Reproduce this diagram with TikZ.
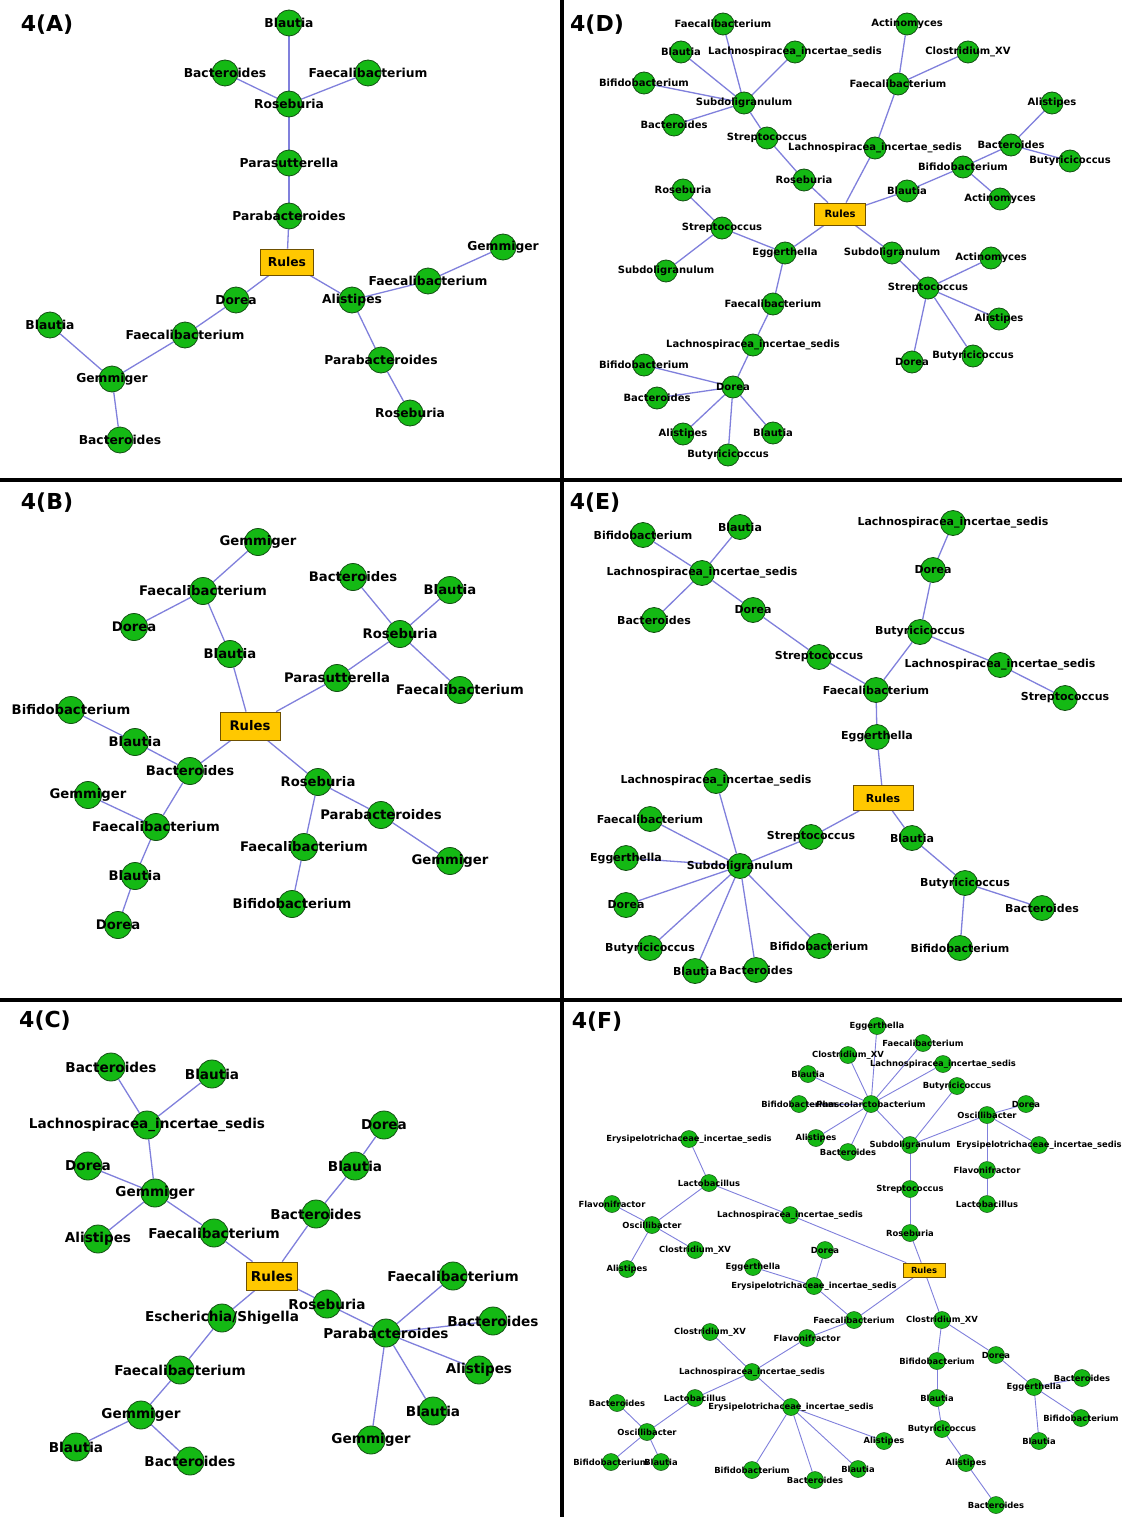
\documentclass[tikz,border=0pt]{standalone}
\usepackage{fontspec}
\setmainfont{DejaVu Sans}
\usetikzlibrary{backgrounds}
\pgfdeclarelayer{bg}\pgfdeclarelayer{fg}\pgfsetlayers{bg,main,fg}
\definecolor{nodegreen}{RGB}{20,185,20}
\definecolor{nodeborder}{RGB}{20,80,20}
\definecolor{edgeblue}{RGB}{128,128,220}
\definecolor{rulesfill}{RGB}{255,200,0}
\definecolor{rulesborder}{RGB}{110,80,0}
\newcommand\Lis{Lachnospiracea\_incertae\_sedis}
\newcommand\Ery{Erysipelotrichaceae\_incertae\_sedis}
\newcommand\Clo{Clostridium\_XV}
\newcommand\gn[5]{\node[gc#1] (#2) at (#3,#4) {};\begin{pgfonlayer}{fg}\node[gt#1] (t#2) at (#3,#4) {#5};\end{pgfonlayer}}
\tikzset{
  gcirc/.style={circle,fill=nodegreen,draw=nodeborder,line width=0.8pt,inner sep=0pt},
  gtext/.style={inner sep=0pt,text=black},
  gcA/.style={gcirc,minimum size=26pt}, gtA/.style={gtext,font=\bfseries\fontsize{12.3}{14}\selectfont},
  gcB/.style={gcirc,minimum size=27pt}, gtB/.style={gtext,font=\bfseries\fontsize{13.2}{15}\selectfont},
  gcC/.style={gcirc,minimum size=28pt}, gtC/.style={gtext,font=\bfseries\fontsize{13.6}{15}\selectfont},
  gcD/.style={gcirc,minimum size=22pt}, gtD/.style={gtext,font=\bfseries\fontsize{10}{12}\selectfont},
  gcE/.style={gcirc,minimum size=25pt}, gtE/.style={gtext,font=\bfseries\fontsize{11}{13}\selectfont},
  gcF/.style={gcirc,minimum size=17pt,line width=0.5pt}, gtF/.style={gtext,font=\bfseries\fontsize{8.4}{10}\selectfont},
  rulesbox/.style={rectangle,fill=rulesfill,draw=rulesborder,line width=0.8pt,inner sep=0pt},
  eg/.style={draw=edgeblue,line width=1.3pt},
  egF/.style={draw=edgeblue,line width=0.9pt},
  plabel/.style={font=\bfseries\fontsize{22}{24}\selectfont,inner sep=0pt},
  divider/.style={line width=4pt,black}
}
\begin{document}
\begin{tikzpicture}[x=1pt,y=-1pt]
\useasboundingbox (0,0) rectangle (1122,1517);
% ---------------- panel labels
\node[plabel] (LA) at (47,25) {4(A)};
\node[plabel] (LB) at (47,503) {4(B)};
\node[plabel] (LC) at (45,1021) {4(C)};
\node[plabel] (LD) at (597,25) {4(D)};
\node[plabel] (LE) at (595,503) {4(E)};
\node[plabel] (LF) at (597,1022) {4(F)};
% ---------------- A
\gn{A}{A1}{289}{23}{Blautia}
\gn{A}{A2}{225}{73}{Bacteroides}
\gn{A}{A3}{368}{73}{Faecalibacterium}
\gn{A}{A4}{289}{104}{Roseburia}
\gn{A}{A5}{289}{163}{Parasutterella}
\gn{A}{A6}{289}{216}{Parabacteroides}
\node[rulesbox,minimum width=53pt,minimum height=26pt,font=\bfseries\fontsize{12.3}{14}\selectfont] (AR) at (287,262) {Rules};
\gn{A}{A7}{236}{300}{Dorea}
\gn{A}{A8}{352}{300}{Alistipes}
\gn{A}{A9}{428}{281}{Faecalibacterium}
\gn{A}{A10}{503}{247}{Gemmiger}
\gn{A}{A11}{381}{360}{Parabacteroides}
\gn{A}{A12}{410}{413}{Roseburia}
\gn{A}{A13}{185}{335}{Faecalibacterium}
\gn{A}{A14}{50}{325}{Blautia}
\gn{A}{A15}{112}{379}{Gemmiger}
\gn{A}{A16}{120}{440}{Bacteroides}
% ---------------- B
\gn{B}{B1}{258}{542}{Gemmiger}
\gn{B}{B2}{203}{591}{Faecalibacterium}
\gn{B}{B3}{134}{627}{Dorea}
\gn{B}{B4}{230}{654}{Blautia}
\gn{B}{B5}{353}{577}{Bacteroides}
\gn{B}{B6}{450}{590}{Blautia}
\gn{B}{B7}{400}{634}{Roseburia}
\gn{B}{B8}{337}{678}{Parasutterella}
\gn{B}{B9}{460}{690}{Faecalibacterium}
\node[rulesbox,minimum width=60pt,minimum height=28pt,font=\bfseries\fontsize{13.2}{15}\selectfont] (BR) at (250,726) {Rules};
\gn{B}{B10}{71}{710}{Bifidobacterium}
\gn{B}{B11}{135}{742}{Blautia}
\gn{B}{B12}{190}{771}{Bacteroides}
\gn{B}{B13}{318}{782}{Roseburia}
\gn{B}{B14}{381}{815}{Parabacteroides}
\gn{B}{B15}{450}{861}{Gemmiger}
\gn{B}{B16}{88}{795}{Gemmiger}
\gn{B}{B17}{156}{827}{Faecalibacterium}
\gn{B}{B18}{304}{847}{Faecalibacterium}
\gn{B}{B19}{292}{904}{Bifidobacterium}
\gn{B}{B20}{135}{876}{Blautia}
\gn{B}{B21}{118}{925}{Dorea}
% ---------------- C
\gn{C}{C1}{111}{1067}{Bacteroides}
\gn{C}{C2}{212}{1074}{Blautia}
\gn{C}{C3}{147}{1125}{\Lis}
\gn{C}{C4}{88}{1166}{Dorea}
\gn{C}{C5}{155}{1193}{Gemmiger}
\gn{C}{C6}{98}{1239}{Alistipes}
\gn{C}{C7}{214}{1233}{Faecalibacterium}
\gn{C}{C8}{384}{1125}{Dorea}
\gn{C}{C9}{355}{1166}{Blautia}
\gn{C}{C10}{316}{1214}{Bacteroides}
\node[rulesbox,minimum width=51pt,minimum height=28pt,font=\bfseries\fontsize{13.6}{15}\selectfont] (CR) at (272,1276) {Rules};
\gn{C}{C11}{327}{1304}{Roseburia}
\gn{C}{C12}{386}{1333}{Parabacteroides}
\gn{C}{C13}{453}{1276}{Faecalibacterium}
\gn{C}{C14}{493}{1321}{Bacteroides}
\gn{C}{C15}{479}{1370}{Alistipes}
\gn{C}{C16}{433}{1411}{Blautia}
\gn{C}{C17}{371}{1440}{Gemmiger}
\gn{C}{C18}{222}{1318}{Escherichia/Shigella}
\gn{C}{C19}{180}{1370}{Faecalibacterium}
\gn{C}{C20}{141}{1415}{Gemmiger}
\gn{C}{C21}{76}{1447}{Blautia}
\gn{C}{C22}{190}{1461}{Bacteroides}
% ---------------- D
\gn{D}{D1}{723}{24}{Faecalibacterium}
\gn{D}{D2}{681}{52}{Blautia}
\gn{D}{D3}{795}{52}{\Lis}
\gn{D}{D4}{644}{83}{Bifidobacterium}
\gn{D}{D5}{744}{103}{Subdoligranulum}
\gn{D}{D6}{674}{125}{Bacteroides}
\gn{D}{D7}{767}{138}{Streptococcus}
\gn{D}{D8}{804}{180}{Roseburia}
\node[rulesbox,minimum width=51pt,minimum height=22pt,font=\bfseries\fontsize{10}{12}\selectfont] (DR) at (840,214) {Rules};
\gn{D}{D9}{907}{24}{Actinomyces}
\gn{D}{D10}{968}{52}{\Clo}
\gn{D}{D11}{898}{84}{Faecalibacterium}
\gn{D}{D12}{875}{148}{\Lis}
\gn{D}{D13}{1052}{103}{Alistipes}
\gn{D}{D14}{1011}{145}{Bacteroides}
\gn{D}{D15}{1070}{161}{Butyricicoccus}
\gn{D}{D16}{963}{167}{Bifidobacterium}
\gn{D}{D17}{907}{191}{Blautia}
\gn{D}{D18}{1000}{199}{Actinomyces}
\gn{D}{D19}{683}{190}{Roseburia}
\gn{D}{D20}{722}{228}{Streptococcus}
\gn{D}{D21}{785}{253}{Eggerthella}
\gn{D}{D22}{666}{271}{Subdoligranulum}
\gn{D}{D23}{773}{304}{Faecalibacterium}
\gn{D}{D24}{753}{345}{\Lis}
\gn{D}{D25}{644}{365}{Bifidobacterium}
\gn{D}{D26}{733}{387}{Dorea}
\gn{D}{D27}{657}{398}{Bacteroides}
\gn{D}{D28}{683}{434}{Alistipes}
\gn{D}{D29}{773}{433}{Blautia}
\gn{D}{D30}{728}{455}{Butyricicoccus}
\gn{D}{D31}{892}{253}{Subdoligranulum}
\gn{D}{D32}{991}{258}{Actinomyces}
\gn{D}{D33}{928}{288}{Streptococcus}
\gn{D}{D34}{999}{319}{Alistipes}
\gn{D}{D35}{912}{362}{Dorea}
\gn{D}{D36}{973}{356}{Butyricicoccus}
% ---------------- E
\gn{E}{E1}{643}{535}{Bifidobacterium}
\gn{E}{E2}{740}{527}{Blautia}
\gn{E}{E3}{702}{573}{\Lis}
\gn{E}{E4}{654}{620}{Bacteroides}
\gn{E}{E5}{753}{610}{Dorea}
\gn{E}{E6}{819}{657}{Streptococcus}
\gn{E}{E7}{953}{523}{\Lis}
\gn{E}{E8}{933}{570}{Dorea}
\gn{E}{E9}{920}{632}{Butyricicoccus}
\gn{E}{E10}{1000}{665}{\Lis}
\gn{E}{E11}{1065}{698}{Streptococcus}
\gn{E}{E12}{876}{690}{Faecalibacterium}
\gn{E}{E13}{877}{737}{Eggerthella}
\node[rulesbox,minimum width=60pt,minimum height=25pt,font=\bfseries\fontsize{11}{13}\selectfont] (ER) at (883,798) {Rules};
\gn{E}{E14}{716}{781}{\Lis}
\gn{E}{E15}{650}{819}{Faecalibacterium}
\gn{E}{E16}{626}{858}{Eggerthella}
\gn{E}{E17}{740}{866}{Subdoligranulum}
\gn{E}{E18}{626}{905}{Dorea}
\gn{E}{E19}{811}{837}{Streptococcus}
\gn{E}{E20}{912}{838}{Blautia}
\gn{E}{E21}{965}{883}{Butyricicoccus}
\gn{E}{E22}{1042}{908}{Bacteroides}
\gn{E}{E23}{960}{948}{Bifidobacterium}
\gn{E}{E24}{650}{948}{Butyricicoccus}
\gn{E}{E25}{819}{946}{Bifidobacterium}
\gn{E}{E26}{695}{971}{Blautia}
\gn{E}{E27}{756}{970}{Bacteroides}
% ---------------- F
\gn{F}{F1}{877}{1026}{Eggerthella}
\gn{F}{F2}{923}{1043}{Faecalibacterium}
\gn{F}{F3}{848}{1055}{\Clo}
\gn{F}{F4}{943}{1064}{\Lis}
\gn{F}{F5}{808}{1074}{Blautia}
\gn{F}{F6}{957}{1086}{Butyricicoccus}
\gn{F}{F7}{799}{1104}{Bifidobacterium}
\gn{F}{F8}{871}{1104}{Phascolarctobacterium}
\gn{F}{F9}{1026}{1104}{Dorea}
\gn{F}{F10}{987}{1115}{Oscillibacter}
\gn{F}{F11}{816}{1138}{Alistipes}
\gn{F}{F12}{848}{1152}{Bacteroides}
\gn{F}{F13}{910}{1145}{Subdoligranulum}
\gn{F}{F14}{1039}{1145}{\Ery}
\gn{F}{F15}{987}{1170}{Flavonifractor}
\gn{F}{F16}{910}{1189}{Streptococcus}
\gn{F}{F17}{987}{1204}{Lactobacillus}
\gn{F}{F18}{910}{1233}{Roseburia}
\node[rulesbox,minimum width=42pt,minimum height=14pt,line width=0.6pt,font=\bfseries\fontsize{8.4}{10}\selectfont] (FR) at (924,1270) {Rules};
\gn{F}{F19}{689}{1139}{\Ery}
\gn{F}{F20}{709}{1183}{Lactobacillus}
\gn{F}{F21}{612}{1204}{Flavonifractor}
\gn{F}{F22}{652}{1225}{Oscillibacter}
\gn{F}{F23}{790}{1215}{\Lis}
\gn{F}{F24}{695}{1250}{\Clo}
\gn{F}{F25}{627}{1269}{Alistipes}
\gn{F}{F26}{825}{1250}{Dorea}
\gn{F}{F27}{753}{1267}{Eggerthella}
\gn{F}{F28}{814}{1286}{\Ery}
\gn{F}{F29}{854}{1320}{Faecalibacterium}
\gn{F}{F30}{710}{1332}{\Clo}
\gn{F}{F31}{807}{1338}{Flavonifractor}
\gn{F}{F32}{752}{1372}{\Lis}
\gn{F}{F33}{695}{1398}{Lactobacillus}
\gn{F}{F34}{617}{1403}{Bacteroides}
\gn{F}{F35}{791}{1407}{\Ery}
\gn{F}{F36}{647}{1432}{Oscillibacter}
\gn{F}{F37}{611}{1462}{Bifidobacterium}
\gn{F}{F38}{661}{1462}{Blautia}
\gn{F}{F39}{752}{1470}{Bifidobacterium}
\gn{F}{F40}{815}{1480}{Bacteroides}
\gn{F}{F41}{858}{1469}{Blautia}
\gn{F}{F42}{884}{1441}{Alistipes}
\gn{F}{F43}{942}{1320}{\Clo}
\gn{F}{F44}{937}{1361}{Bifidobacterium}
\gn{F}{F45}{996}{1355}{Dorea}
\gn{F}{F46}{937}{1398}{Blautia}
\gn{F}{F47}{1082}{1378}{Bacteroides}
\gn{F}{F48}{1034}{1387}{Eggerthella}
\gn{F}{F49}{1081}{1418}{Bifidobacterium}
\gn{F}{F50}{942}{1429}{Butyricicoccus}
\gn{F}{F51}{1039}{1441}{Blautia}
\gn{F}{F52}{966}{1463}{Alistipes}
\gn{F}{F53}{996}{1505}{Bacteroides}
% ---------------- edges
\begin{pgfonlayer}{bg}
\coordinate (bgtl) at (0,0); \coordinate (bgbr) at (1122,1517);
\fill[white] (bgtl) rectangle (bgbr);
\foreach \u/\v in {A1/A4,A2/A4,A3/A4,A4/A5,A5/A6,A6/AR,AR/A7,AR/A8,A8/A9,A9/A10,A8/A11,A11/A12,A7/A13,A13/A15,A15/A14,A15/A16,
  B1/B2,B2/B3,B2/B4,B4/BR,BR/B8,B8/B7,B7/B5,B7/B6,B7/B9,BR/B12,B12/B11,B11/B10,B12/B17,B17/B16,B17/B20,B20/B21,BR/B13,B13/B14,B14/B15,B13/B18,B18/B19,
  C1/C3,C2/C3,C3/C5,C5/C4,C5/C6,C5/C7,C7/CR,CR/C10,C10/C9,C9/C8,CR/C11,C11/C12,C12/C13,C12/C14,C12/C15,C12/C16,C12/C17,CR/C18,C18/C19,C19/C20,C20/C21,C20/C22,
  D1/D5,D2/D5,D3/D5,D4/D5,D6/D5,D5/D7,D7/D8,D8/DR,DR/D12,D12/D11,D11/D9,D11/D10,DR/D17,D17/D16,D16/D14,D14/D13,D14/D15,D16/D18,DR/D21,D21/D20,D20/D19,D20/D22,D21/D23,D23/D24,D24/D26,D26/D25,D26/D27,D26/D28,D26/D29,D26/D30,DR/D31,D31/D33,D33/D32,D33/D34,D33/D35,D33/D36,
  E1/E3,E2/E3,E4/E3,E3/E5,E5/E6,E6/E12,E12/E9,E9/E8,E8/E7,E9/E10,E10/E11,E12/E13,E13/ER,ER/E19,E19/E17,E17/E14,E17/E15,E17/E16,E17/E18,E17/E24,E17/E26,E17/E27,E17/E25,ER/E20,E20/E21,E21/E22,E21/E23}
  \draw[eg] (\u) -- (\v);
\foreach \u/\v in {FR/F18,F18/F16,F16/F13,F13/F8,F13/F6,F13/F10,F8/F1,F8/F2,F8/F3,F8/F4,F8/F5,F8/F7,F8/F11,F8/F12,F10/F9,F10/F14,F10/F15,F15/F17,
  FR/F23,F23/F20,F20/F19,F20/F22,F22/F21,F22/F24,F22/F25,FR/F29,F29/F28,F28/F26,F28/F27,F29/F31,F31/F32,F32/F30,F32/F33,F33/F36,F36/F34,F36/F37,F36/F38,
  F32/F35,F35/F39,F35/F40,F35/F41,F35/F42,FR/F43,F43/F44,F44/F46,F46/F50,F50/F52,F52/F53,F43/F45,F45/F48,F48/F47,F48/F49,F48/F51}
  \draw[egF] (\u) -- (\v);
\end{pgfonlayer}
% ---------------- dividers
\begin{pgfonlayer}{fg}
\coordinate (vt) at (562,0); \coordinate (vb) at (562,1517);
\coordinate (h1l) at (0,480); \coordinate (h1r) at (1122,480);
\coordinate (h2l) at (0,1000); \coordinate (h2r) at (1122,1000);
\draw[divider] (vt) -- (vb);
\draw[divider] (h1l) -- (h1r);
\draw[divider] (h2l) -- (h2r);
\end{pgfonlayer}
\end{tikzpicture}
\end{document}
